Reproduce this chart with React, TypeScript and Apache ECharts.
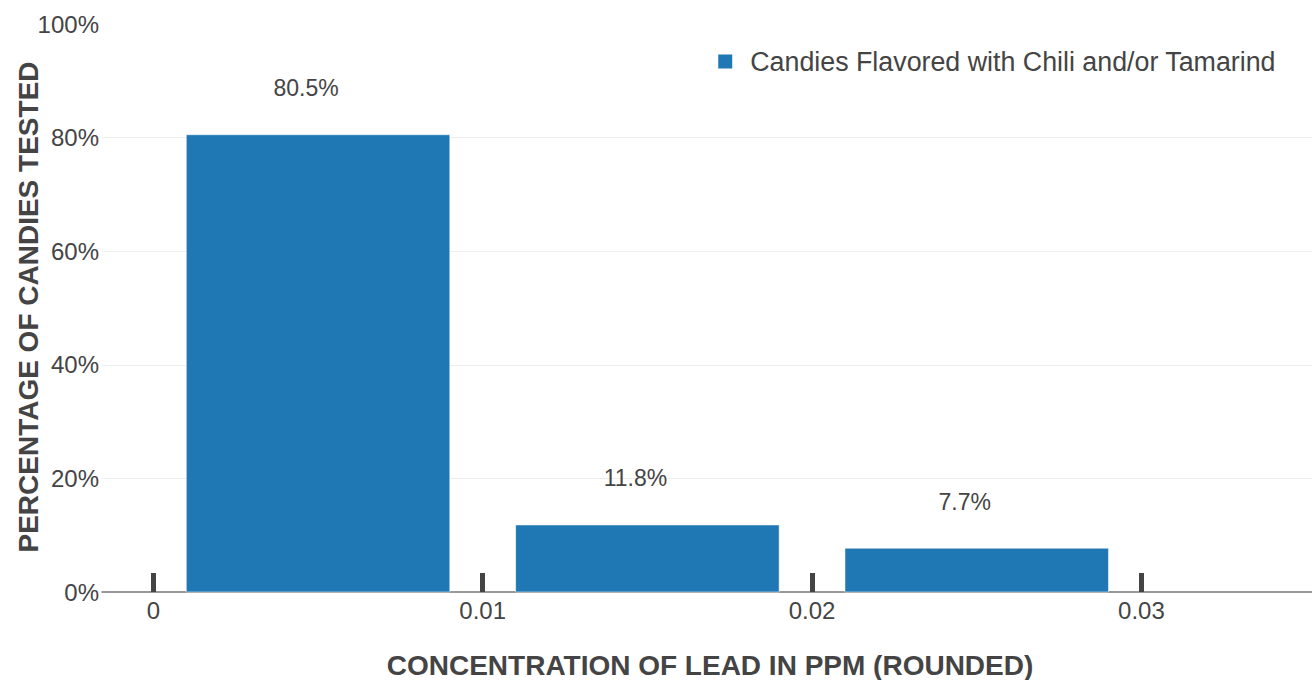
import React, { useEffect, useRef } from "react";
import * as echarts from "echarts";

const seriesName = "Candies Flavored with Chili and/or Tamarind";
const binCenters = [0.005, 0.015, 0.025];
const percentages = [80.5, 11.8, 7.7];
const xTickValues = [0, 0.01, 0.02, 0.03];
const yTitle = "PERCENTAGE OF CANDIES TESTED";
const xTitle = "CONCENTRATION OF LEAD IN PPM (ROUNDED)";

const BAR_WIDTH = 0.008;
const BLUE = "#1f77b4";
const TEXT = "#444";
const FONT = "'Liberation Sans', Arial, sans-serif";

export default function App() {
  const ref = useRef<HTMLDivElement>(null);
  useEffect(() => {
    if (!ref.current) return;
    const chart = echarts.init(ref.current, undefined, { renderer: "svg" });
    const data = binCenters.map((c, i) => [c, percentages[i]]);
    chart.setOption({
      animation: false,
      backgroundColor: "#fff",
      textStyle: { fontFamily: FONT },
      grid: { left: 102, right: 0, top: 24, bottom: 88, containLabel: false },
      legend: {
        data: [{ name: seriesName, icon: "rect" }],
        right: 31,
        top: 43,
        itemWidth: 14,
        itemHeight: 14,
        textStyle: { fontSize: 26.8, color: TEXT, fontFamily: FONT, padding: [0, 0, 0, 13] },
        selectedMode: false,
      },
      xAxis: {
        type: "value",
        min: -0.00156,
        max: 0.03518,
        axisLine: { show: true, onZero: false, lineStyle: { color: "#777", width: 1.5 } },
        axisTick: {
          show: true,
          inside: true,
          length: 19,
          lineStyle: { color: TEXT, width: 5 },
          customValues: xTickValues,
        },
        axisLabel: {
          customValues: xTickValues,
          fontSize: 24,
          color: TEXT,
          margin: 6,
          fontFamily: FONT,
          formatter: (v: number) => String(v),
        },
        splitLine: { show: false },
      },
      yAxis: {
        type: "value",
        min: 0,
        max: 100,
        interval: 20,
        axisLine: { show: false },
        axisTick: { show: false },
        axisLabel: { fontSize: 24, color: TEXT, margin: 3, formatter: "{value}%", fontFamily: FONT },
        splitLine: {
          show: true,
          lineStyle: { color: ["transparent", "#eee", "#eee", "#eee", "#eee", "transparent"], width: 1 },
        },
      },
      graphic: [
        {
          type: "text",
          x: 28,
          y: 307,
          rotation: Math.PI / 2,
          style: {
            text: yTitle,
            fill: TEXT,
            font: `bold 28px ${FONT}`,
            textAlign: "center",
            textVerticalAlign: "middle",
          },
        },
        {
          type: "text",
          x: 710,
          y: 665,
          style: {
            text: xTitle,
            fill: TEXT,
            font: `bold 28px ${FONT}`,
            textAlign: "center",
            textVerticalAlign: "middle",
          },
        },
      ],
      series: [
        {
          name: seriesName,
          type: "custom",
          itemStyle: { color: BLUE },
          data,
          encode: { x: 0, y: 1 },
          renderItem: (params: any, api: any) => {
            const c = api.value(0);
            const v = api.value(1);
            const p0 = api.coord([c - BAR_WIDTH / 2, v]);
            const p1 = api.coord([c + BAR_WIDTH / 2, 0]);
            const mid = api.coord([c, v]);
            return {
              type: "group",
              children: [
                {
                  type: "rect",
                  shape: { x: p0[0], y: p0[1], width: p1[0] - p0[0], height: p1[1] - p0[1] },
                  style: { fill: BLUE, stroke: "rgba(255,255,255,0.5)", lineWidth: 1 },
                },
                {
                  type: "text",
                  x: mid[0] - 12,
                  y: mid[1] - 35,
                  style: {
                    text: v + "%",
                    fill: TEXT,
                    font: `23px ${FONT}`,
                    textAlign: "center",
                    textVerticalAlign: "bottom",
                  },
                },
              ],
            };
          },
        },
      ],
    });
    return () => chart.dispose();
  }, []);
  return <div ref={ref} style={{ position: "fixed", left: 0, top: 0, width: 1312, height: 680 }} />;
}
